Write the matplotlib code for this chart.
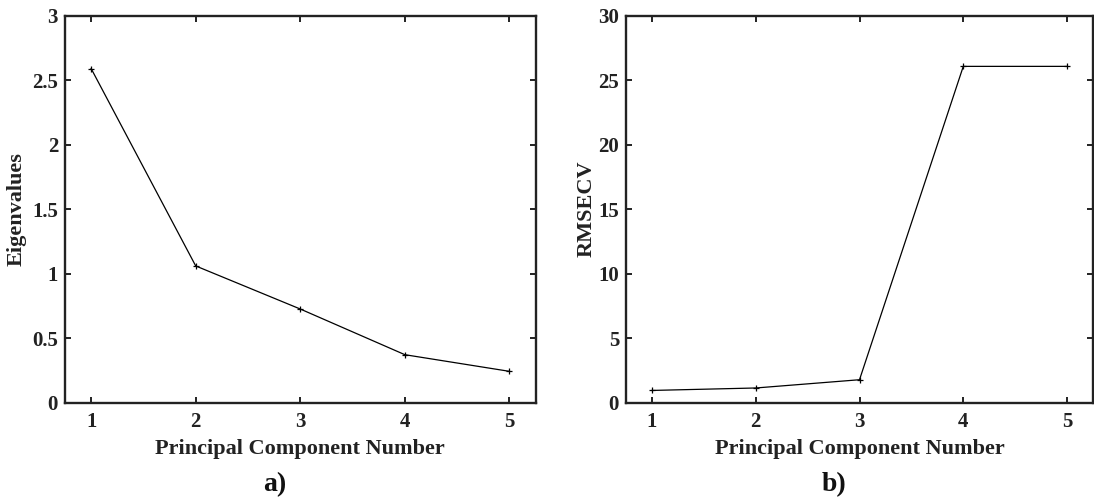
import numpy as np
import matplotlib
matplotlib.use('Agg')
import matplotlib.pyplot as plt

plt.rcParams['font.family'] = ['Liberation Serif', 'DejaVu Serif']
plt.rcParams['font.weight'] = 'bold'

pc = [1, 2, 3, 4, 5]
eigenvalues = [2.59, 1.06, 0.726, 0.372, 0.243]
rmsecv = [0.95, 1.14, 1.78, 26.07, 26.07]

fig = plt.figure(figsize=(10.94, 4.99), dpi=100)
ax1 = fig.add_axes([0.0594, 0.193, 0.4302, 0.7756])
ax2 = fig.add_axes([0.5722, 0.193, 0.4269, 0.7756])

ink = '#222222'


def style(ax, y, ylabel, ylim, yticks, ylab_x):
    ax.plot(pc, y, color='black', linewidth=0.9, marker='+',
            markersize=5, markeredgewidth=0.9)
    ax.set_xlim(0.75, 5.25)
    ax.set_ylim(*ylim)
    ax.set_xticks(pc)
    ax.set_yticks(yticks)
    ax.set_yticklabels(['%g' % v for v in yticks])
    ax.tick_params(axis='both', direction='in', top=True, right=True,
                   length=4.5, width=1.4, labelsize=15, colors=ink)
    ax.tick_params(axis='x', pad=7)
    ax.tick_params(axis='y', pad=5)
    for lbl in ax.get_xticklabels() + ax.get_yticklabels():
        lbl.set_fontweight('bold')
    for s in ax.spines.values():
        s.set_linewidth(1.7)
        s.set_color(ink)
    ax.set_xlabel('Principal Component Number', fontsize=16,
                  fontweight='bold', color=ink, va='top')
    ax.xaxis.set_label_coords(0.5, -0.094)
    ax.set_ylabel(ylabel, fontsize=16, fontweight='bold', color=ink)
    ax.yaxis.set_label_coords(ylab_x, 0.5)


style(ax1, eigenvalues, 'Eigenvalues', (0, 3),
      [0, 0.5, 1, 1.5, 2, 2.5, 3], -0.081)
style(ax2, rmsecv, 'RMSECV', (0, 30),
      [0, 5, 10, 15, 20, 25, 30], -0.062)

fig.text(274.6 / 1094, 0.028, 'a)', fontsize=20, fontweight='bold',
         ha='center', va='center', color='#111111')
fig.text(834 / 1094, 0.028, 'b)', fontsize=20, fontweight='bold',
         ha='center', va='center', color='#111111')

fig.savefig('out.png', dpi=100)
